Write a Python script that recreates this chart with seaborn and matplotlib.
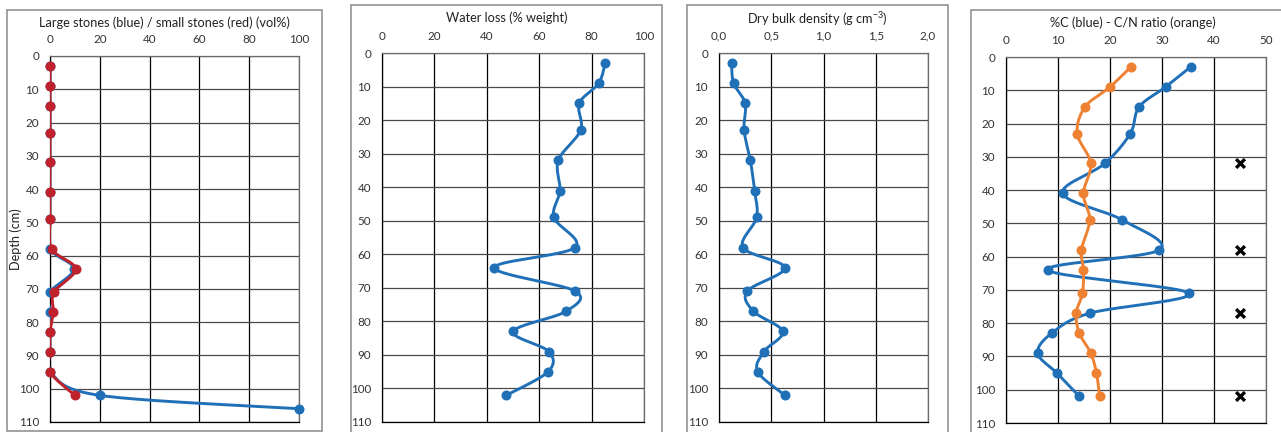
import numpy as np
import pandas as pd
import matplotlib
matplotlib.use("Agg")
import matplotlib.pyplot as plt
import seaborn as sns
from matplotlib.patches import Rectangle

# ---------------- data ----------------
depth = [3, 9, 15, 23, 32, 41, 49, 58, 64, 71, 77, 83, 89, 95, 102]
depth_large = depth + [106]
large_stones = [0, 0, 0, 0, 0, 0, 0, 0, 9.6, 0, 0, 0, 0, 0, 20, 100]
small_stones = [0, 0, 0, 0, 0, 0, 0, 0.7, 10.3, 1.6, 1.3, 0, 0, 0, 10]
water_loss = [85.2, 82.7, 75.3, 75.8, 67.3, 67.9, 65.6, 73.6, 42.9, 73.8, 70.3, 50.1, 63.7, 63.4, 47.5]
bulk_density = [0.12, 0.14, 0.25, 0.24, 0.30, 0.34, 0.36, 0.23, 0.63, 0.27, 0.33, 0.61, 0.43, 0.37, 0.63]
carbon = [35.5, 30.7, 25.6, 23.9, 19.0, 10.9, 22.4, 29.5, 8.0, 35.2, 16.1, 8.8, 6.1, 9.8, 14.1]
cn_ratio = [24.0, 20.0, 15.2, 13.7, 16.3, 14.9, 16.1, 14.5, 14.9, 14.7, 13.5, 14.1, 16.3, 17.4, 18.0]
cross_depth = [32, 58, 77, 102]
cross_x = [45, 45, 45, 45]

titles = ["Large stones (blue) / small stones (red) (vol%)",
          "Water loss (% weight)",
          "Dry bulk density (g cm$^{-3}$)",
          "%C (blue) - C/N ratio (orange)"]
y_ticks = list(range(0, 111, 10))
x_ticks_pct = [0, 20, 40, 60, 80, 100]
x_ticks_dens = [0.0, 0.5, 1.0, 1.5, 2.0]
x_ticklabels_dens = ["0,0", "0,5", "1,0", "1,5", "2,0"]
x_ticks_c = [0, 10, 20, 30, 40, 50]

BLUE = "#2070B8"
RED = "#C0222C"
ORANGE = "#EE8132"

# ---------------- style ----------------
sns.set_style("white")
plt.rcParams["font.family"] = ["Lato", "DejaVu Sans"]
plt.rcParams["mathtext.fontset"] = "custom"
plt.rcParams["mathtext.rm"] = "Lato"
plt.rcParams["mathtext.it"] = "Lato"

W, H = 1281, 432
fig = plt.figure(figsize=(W / 100, H / 100), dpi=100)


def px_rect(l, t, r, b):
    return [l / W, 1 - b / H, (r - l) / W, (b - t) / H]


def smooth(x, y, n=24):
    """Excel-like smoothed line (Catmull-Rom Bezier) through the points."""
    x = np.asarray(x, float)
    y = np.asarray(y, float)
    P = np.column_stack([x, y])
    out = [P[0]]
    m = len(P)
    for i in range(m - 1):
        p0 = P[i - 1] if i > 0 else P[i]
        p1 = P[i]
        p2 = P[i + 1]
        p3 = P[i + 2] if i + 2 < m else P[i + 1]
        c1 = p1 + (p2 - p0) / 6.0
        c2 = p2 - (p3 - p1) / 6.0
        t = np.linspace(0, 1, n)[1:, None]
        seg = ((1 - t) ** 3) * p1 + 3 * ((1 - t) ** 2) * t * c1 + 3 * (1 - t) * t ** 2 * c2 + t ** 3 * p2
        out.extend(seg)
    out = np.array(out)
    return out[:, 0], out[:, 1]


def series(ax, xv, dv, color, z):
    sx, sy = smooth(xv, dv)
    df = pd.DataFrame({"x": sx, "y": sy})
    sns.lineplot(data=df, x="x", y="y", sort=False, estimator=None, ax=ax,
                 color=color, lw=2.1, zorder=z)
    dfp = pd.DataFrame({"x": xv, "y": dv})
    sns.scatterplot(data=dfp, x="x", y="y", ax=ax, color=color, s=52,
                    linewidth=0, zorder=z + 0.5, clip_on=False)


def style_axes(ax, xlim, xticks, xticklabels=None):
    ax.set_ylim(110, 0)
    ax.set_xlim(*xlim)
    ax.set_yticks(y_ticks)
    ax.set_xticks(xticks)
    if xticklabels is not None:
        ax.set_xticklabels(xticklabels)
    ax.xaxis.tick_top()
    ax.tick_params(axis="both", length=0, labelsize=8.4, colors="#333333")
    ax.tick_params(axis="x", pad=8)
    ax.tick_params(axis="y", pad=8)
    ax.set_xlabel("")
    ax.set_ylabel("")
    for v in xticks:
        ax.axvline(v, color="black", lw=0.9, zorder=1)
    for v in y_ticks:
        ax.axhline(v, color="#4a4a4a", lw=0.9, zorder=1)
    for s in ["left", "bottom"]:
        ax.spines[s].set_color("black")
        ax.spines[s].set_linewidth(0.9)
    for s in ["top", "right"]:
        ax.spines[s].set_color("#6a6a6a")
        ax.spines[s].set_linewidth(0.9)


# frames (chart areas)
frames = [(7, 10, 322, 431), (351, 5, 662, 445), (687, 5, 948, 445), (971, 10, 1295, 445)]
title_y = [23, 18, 19, 23]
for (l, t, r, b), ttl, ty in zip(frames, titles, title_y):
    fig.add_artist(Rectangle((l / W, 1 - b / H), (r - l) / W, (b - t) / H,
                             transform=fig.transFigure, fill=False,
                             edgecolor="#8a8a8a", lw=1.1, clip_on=False))
    fig.text((l + r) / 2 / W, 1 - ty / H, ttl, ha="center", va="center",
             fontsize=9.2, color="#222222")

# panel 1
ax1 = fig.add_axes(px_rect(50, 56, 299, 422))
series(ax1, large_stones, depth_large, BLUE, 3)
series(ax1, small_stones, depth, RED, 4)
style_axes(ax1, (0, 100), x_ticks_pct)
fig.text(16 / W, 1 - 239 / H, "Depth (cm)", rotation=90, ha="center", va="center",
         fontsize=9.2, color="#222222")

# panel 2
ax2 = fig.add_axes(px_rect(382, 53, 644, 422))
series(ax2, water_loss, depth, BLUE, 3)
style_axes(ax2, (0, 100), x_ticks_pct)

# panel 3
ax3 = fig.add_axes(px_rect(719, 53, 928, 422))
series(ax3, bulk_density, depth, BLUE, 3)
style_axes(ax3, (0, 2.0), x_ticks_dens, x_ticklabels_dens)

# panel 4
ax4 = fig.add_axes(px_rect(1006, 57, 1266, 423))
series(ax4, carbon, depth, BLUE, 3)
series(ax4, cn_ratio, depth, ORANGE, 4)
dfx = pd.DataFrame({"x": cross_x, "y": cross_depth})
sns.scatterplot(data=dfx, x="x", y="y", ax=ax4, marker="x", color="black",
                s=40, linewidth=2.4, zorder=6)
style_axes(ax4, (0, 50), x_ticks_c)

fig.savefig("out.png", dpi=100)
